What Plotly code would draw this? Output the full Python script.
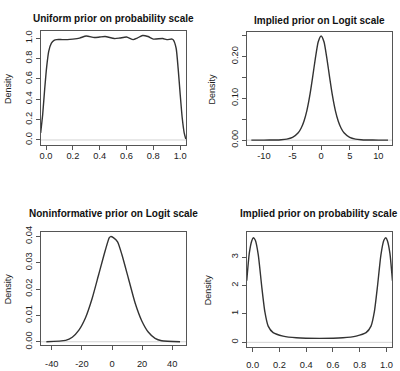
import plotly.graph_objects as go

W, H = 400, 371

# ---------------- data ----------------
p1_title = "Uniform prior on probability scale"
p1_x = [-0.040, -0.025, -0.010, 0.005, 0.020, 0.040, 0.060, 0.080, 0.12, 0.16, 0.20, 0.25, 0.30,
        0.36, 0.40, 0.44, 0.51, 0.55, 0.60, 0.65, 0.68, 0.72, 0.76, 0.80, 0.87, 0.90, 0.94, 0.95,
        0.97, 0.985, 1.000, 1.015, 1.030, 1.042]
p1_y = [0.07, 0.25, 0.50, 0.72, 0.87, 0.95, 0.978, 0.985, 0.985, 0.985, 0.99, 1.0, 1.02,
        1.005, 1.01, 1.015, 0.995, 1.0, 1.01, 0.985, 1.0, 1.025, 1.015, 0.99, 0.995, 0.985, 0.99, 0.98,
        0.90, 0.70, 0.45, 0.22, 0.07, 0.01]
p1_xticks = [0.0, 0.2, 0.4, 0.6, 0.8, 1.0]
p1_xticklabels = ["0.0", "0.2", "0.4", "0.6", "0.8", "1.0"]
p1_yticks = [0.0, 0.2, 0.4, 0.6, 0.8, 1.0]
p1_yticklabels = ["0.0", "0.2", "0.4", "0.6", "0.8", "1.0"]

p2_title = "Implied prior on Logit scale"
p2_x = [-12.2, -10, -8, -7, -6, -5, -4, -3.5, -3, -2.5, -2, -1.5, -1, -0.5, 0,
        0.5, 1, 1.5, 2, 2.5, 3, 3.5, 4, 5, 6, 7, 8, 10, 11.7]
p2_y = [0.0, 0.0001, 0.0004, 0.001, 0.0025, 0.0066, 0.0176, 0.0284, 0.0452, 0.070, 0.105, 0.149,
        0.196, 0.235, 0.249,
        0.235, 0.196, 0.149, 0.105, 0.070, 0.0452, 0.0284, 0.0176, 0.0066, 0.0025, 0.001, 0.0004,
        0.0001, 0.0]
p2_xticks = [-10, -5, 0, 5, 10]
p2_xticklabels = ["-10", "-5", "0", "5", "10"]
p2_yticks = [0.00, 0.05, 0.10, 0.15, 0.20, 0.25]
p2_yticklabels = ["0.00", "", "0.10", "", "0.20", ""]

p3_title = "Noninformative prior on Logit scale"
p3_x = [-43.6, -30.8, -26.4, -22.0, -17.6, -13.2, -8.8, -4.4, -1.8, -0.9, 1.1, 3.7, 6.6, 11.0,
        15.4, 19.8, 24.2, 28.6, 33.0, 45.2]
p3_y = [0.0, 0.0005, 0.0017, 0.0044, 0.0091, 0.0164, 0.0256, 0.0348, 0.0395, 0.0399, 0.0394,
        0.0379, 0.0330, 0.0238, 0.0146, 0.0079, 0.0036, 0.0013, 0.0004, 0.0]
p3_xticks = [-40, -20, 0, 20, 40]
p3_xticklabels = ["-40", "-20", "0", "20", "40"]
p3_yticks = [0.00, 0.01, 0.02, 0.03, 0.04]
p3_yticklabels = ["0.00", "0.01", "0.02", "0.03", "0.04"]

p4_title = "Implied prior on probability scale"
p4_x = [-0.044, -0.025, -0.007, 0.005, 0.020, 0.042, 0.067, 0.091, 0.116, 0.153, 0.227, 0.326,
        0.50, 0.674, 0.773, 0.847, 0.884, 0.909, 0.933, 0.958, 0.980, 0.995, 1.007, 1.025, 1.044]
p4_y = [2.17, 3.14, 3.57, 3.68, 3.59, 3.08, 2.00, 1.08, 0.57, 0.34, 0.22, 0.16,
        0.14, 0.16, 0.22, 0.34, 0.57, 1.08, 2.00, 3.08, 3.59, 3.68, 3.57, 3.14, 2.17]
p4_xticks = [0.0, 0.2, 0.4, 0.6, 0.8, 1.0]
p4_xticklabels = ["0.0", "0.2", "0.4", "0.6", "0.8", "1.0"]
p4_yticks = [0, 1, 2, 3]
p4_yticklabels = ["0", "1", "2", "3"]

y_label = "Density"

# ---------------- layout geometry (pixels) ----------------
panels = [
    dict(x=p1_x, y=p1_y, title=p1_title, xt=p1_xticks, xtl=p1_xticklabels, yt=p1_yticks,
         ytl=p1_yticklabels, box=(40, 26, 186, 143), xr=[-0.039, 1.044], yr=[-0.047, 1.067],
         title_y=13, ylab_x=7, xstand=-2),
    dict(x=p2_x, y=p2_y, title=p2_title, xt=p2_xticks, xtl=p2_xticklabels, yt=p2_yticks,
         ytl=p2_yticklabels, box=(247, 27, 393, 143), xr=[-13.0, 12.4], yr=[-0.011, 0.258],
         title_y=15, ylab_x=213, xstand=-2),
    dict(x=p3_x, y=p3_y, title=p3_title, xt=p3_xticks, xtl=p3_xticklabels, yt=p3_yticks,
         ytl=p3_yticklabels, box=(40, 233, 186, 349), xr=[-47.3, 49.2], yr=[-0.0011, 0.0416],
         title_y=214, ylab_x=7, xstand=6),
    dict(x=p4_x, y=p4_y, title=p4_title, xt=p4_xticks, xtl=p4_xticklabels, yt=p4_yticks,
         ytl=p4_yticklabels, box=(247, 233, 393, 351), xr=[-0.044, 1.041], yr=[-0.15, 3.88],
         title_y=214, ylab_x=208, xstand=5),
]

FONT = "Liberation Sans, Arial, Helvetica, sans-serif"
LINE = "#333333"
BOX = "#555555"

fig = go.Figure()
annotations = []
shapes = []
layout_axes = {}

for i, p in enumerate(panels, start=1):
    sfx = "" if i == 1 else str(i)
    x0, y0, x1, y1 = p["box"]
    xd = [x0 / W, x1 / W]
    yd = [1 - y1 / H, 1 - y0 / H]
    fig.add_trace(go.Scatter(x=p["x"], y=p["y"], mode="lines",
                             line=dict(color=LINE, width=1.4, shape="spline", smoothing=0.6),
                             xaxis="x" + sfx, yaxis="y" + sfx, showlegend=False,
                             hoverinfo="skip"))
    common = dict(showline=True, mirror=True, linecolor=BOX, linewidth=1.3,
                  ticks="outside", ticklen=4, tickwidth=1, tickcolor=BOX,
                  showgrid=False, zeroline=False,
                  tickfont=dict(family=FONT, size=9.3, color="#222222"))
    layout_axes["xaxis" + sfx] = dict(domain=xd, range=p["xr"], anchor="y" + sfx,
                                      tickmode="array", tickvals=p["xt"], ticktext=p["xtl"],
                                      ticklabelstandoff=p["xstand"], **common)
    layout_axes["yaxis" + sfx] = dict(domain=yd, range=p["yr"], anchor="x" + sfx,
                                      tickmode="array", tickvals=p["yt"], ticktext=p["ytl"],
                                      tickangle=-90, **common)
    # grey zero line as in R's plot.density
    shapes.append(dict(type="line", xref="x" + sfx + " domain", yref="y" + sfx,
                       x0=0, x1=1, y0=0, y1=0, line=dict(color="#d3d3d3", width=1),
                       layer="below"))
    annotations.append(dict(text="<b>" + p["title"] + "</b>", xref="paper", yref="paper",
                            x=(x0 + x1) / 2 / W, y=1 - p["title_y"] / H,
                            xanchor="center", yanchor="middle", showarrow=False,
                            font=dict(family=FONT, size=10, color="#111111")))
    annotations.append(dict(text=y_label, xref="paper", yref="paper",
                            x=p["ylab_x"] / W, y=1 - (y0 + y1) / 2 / H,
                            xanchor="center", yanchor="middle", textangle=-90,
                            showarrow=False,
                            font=dict(family=FONT, size=9, color="#222222")))

fig.update_layout(width=W, height=H, autosize=False,
                  margin=dict(l=0, r=0, t=0, b=0),
                  paper_bgcolor="white", plot_bgcolor="white",
                  annotations=annotations, shapes=shapes, **layout_axes)

fig.write_html("out.html", config={"displayModeBar": False},
               post_script="document.body.style.margin='0';document.body.style.overflow='hidden';")
